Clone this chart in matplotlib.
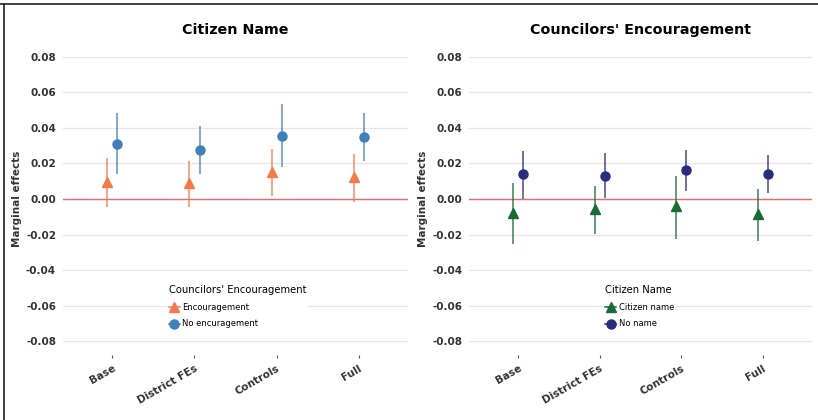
import matplotlib
matplotlib.use("Agg")
import matplotlib.pyplot as plt
from matplotlib.lines import Line2D
import numpy as np

models = ["Base", "District FEs", "Controls", "Full"]

# panel 1: Citizen Name, split by councilors' encouragement
enc_est = [0.0097, 0.0088, 0.0154, 0.0125]
enc_lo = [-0.0045, -0.0045, 0.0019, -0.0015]
enc_hi = [0.0229, 0.0214, 0.0280, 0.0253]
noenc_est = [0.0309, 0.0276, 0.0354, 0.0349]
noenc_lo = [0.0139, 0.0142, 0.0178, 0.0214]
noenc_hi = [0.0482, 0.0410, 0.0534, 0.0485]

# panel 2: Councilors' Encouragement, split by citizen name
name_est = [-0.0081, -0.0058, -0.0039, -0.0084]
name_lo = [-0.0254, -0.0199, -0.0223, -0.0234]
name_hi = [0.0088, 0.0073, 0.0131, 0.0055]
noname_est = [0.0139, 0.0131, 0.0161, 0.0139]
noname_lo = [0.0000, 0.0007, 0.0045, 0.0032]
noname_hi = [0.0272, 0.0257, 0.0276, 0.0247]

yticks = [-0.08, -0.06, -0.04, -0.02, 0.0, 0.02, 0.04, 0.06, 0.08]

orange = "#F27B4E"
blue = "#3F7FBA"
green = "#186B34"
navy = "#282C7C"
txt = "#333333"

fig = plt.figure(figsize=(8.18, 4.2), dpi=100)
fig.patch.set_facecolor("white")

# frame lines at top and left of image
fig.add_artist(Line2D([0, 1], [0.991, 0.991], color="#222222", lw=1.2))
fig.add_artist(Line2D([0.0055, 0.0055], [0, 0.991], color="#222222", lw=1.2))

ax1 = fig.add_axes([0.077, 0.1536, 0.422, 0.7454])
ax2 = fig.add_axes([0.5735, 0.1536, 0.419, 0.7454])

x = np.arange(1, 5)
dodge = 0.062


def draw(ax, title, est_a, lo_a, hi_a, col_a, lab_a,
         est_b, lo_b, hi_b, col_b, lab_b, leg_title, leg_x):
    ax.axhline(0, color="#E8696A", lw=1.0, zorder=1)
    xa = x - dodge
    xb = x + dodge
    ax.vlines(xa, lo_a, hi_a, color=col_a, lw=1.1, alpha=0.85, zorder=2)
    ax.vlines(xb, lo_b, hi_b, color=col_b, lw=1.1, alpha=0.85, zorder=2)
    ax.plot(xa, est_a, "^", color=col_a, ms=7.5, mec=col_a, ls="none", zorder=3)
    ax.plot(xb, est_b, "o", color=col_b, ms=6.5, mec=col_b, ls="none", zorder=3)

    ax.set_xlim(0.4, 4.6)
    ax.set_ylim(-0.088, 0.088)
    ax.set_yticks(yticks)
    ax.set_yticklabels(["%.2f" % v if v != 0 else "0.00" for v in yticks])
    ax.set_xticks(x)
    ax.set_xticklabels(models, rotation=30, ha="right", rotation_mode="anchor")
    for lbl in ax.get_yticklabels():
        lbl.set_fontweight("bold")
        lbl.set_color(txt)
        lbl.set_fontsize(7.5)
    for lbl in ax.get_xticklabels():
        lbl.set_fontweight("bold")
        lbl.set_color(txt)
        lbl.set_fontsize(7.5)
    ax.tick_params(axis="y", length=0, pad=5)
    ax.tick_params(axis="x", length=2.5, color="#555555", pad=3)
    ax.grid(axis="y", color="#E6E6E6", lw=0.9)
    ax.set_axisbelow(True)
    for s in ax.spines.values():
        s.set_visible(False)
    ax.set_title(title, fontsize=10.3, fontweight="bold", pad=6)
    ax.set_ylabel("Marginal effects", fontsize=7.5, fontweight="bold", color=txt, labelpad=3)

    h_a = Line2D([], [], color=col_a, marker="^", ms=7, lw=1.1)
    h_b = Line2D([], [], color=col_b, marker="o", ms=6.5, lw=1.1)
    leg = ax.legend([h_a, h_b], [lab_a, lab_b], title=leg_title,
                    loc="upper left", bbox_to_anchor=(leg_x, 0.245),
                    fontsize=6, title_fontsize=7.2, frameon=True,
                    handlelength=1.3, handletextpad=0.3, borderpad=0.2,
                    labelspacing=0.95, alignment="left")
    leg.get_frame().set_edgecolor("none")
    leg.get_frame().set_facecolor("white")
    leg.get_frame().set_alpha(1)


draw(ax1, "Citizen Name", enc_est, enc_lo, enc_hi, orange, "Encouragement",
     noenc_est, noenc_lo, noenc_hi, blue, "No encuragement",
     "Councilors' Encouragement", 0.29)
draw(ax2, "Councilors' Encouragement", name_est, name_lo, name_hi, green, "Citizen name",
     noname_est, noname_lo, noname_hi, navy, "No name",
     "Citizen Name", 0.38)

fig.savefig("out.png", dpi=100, facecolor="white")
